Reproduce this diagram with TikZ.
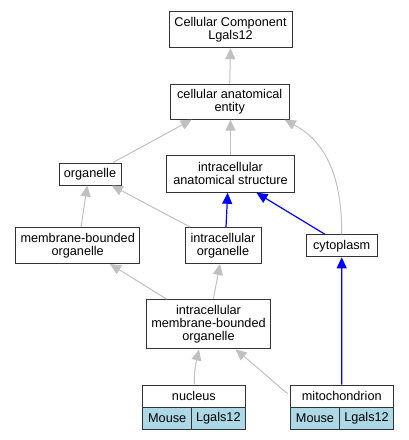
\documentclass[tikz,border=0pt]{standalone}
\usepackage{fontspec}
\setmainfont{Liberation Sans}
\usetikzlibrary{arrows.meta}
\definecolor{edgegray}{HTML}{C0C0C0}
\definecolor{cellblue}{HTML}{ADD8E6}
\tikzset{
  gobox/.style={rectangle, draw=black!80, line width=1pt, fill=white, inner sep=0pt, align=center, font=\fontsize{12.7}{13.3}\selectfont},
  cellbox/.style={gobox, fill=cellblue, minimum height=21.7},
  isa/.style={draw=edgegray, line width=1pt, -{Triangle[length=11pt, width=10pt]}},
  partof/.style={draw=blue, line width=1.2pt, -{Triangle[length=11pt, width=10pt]}}
}
\begin{document}
\begin{tikzpicture}[x=1pt, y=-1pt]
    \useasboundingbox (0, 0) rectangle (409, 440);

    \node[gobox, minimum width=123, minimum height=36] (CC) at (230.5, 29.7) {Cellular Component\\Lgals12};
    \node[gobox, minimum width=119, minimum height=35] (entity) at (229.7, 101.7) {cellular anatomical\\entity};
    \node[gobox, minimum width=62, minimum height=22] (organelle) at (90, 174) {organelle};
    \node[gobox, minimum width=128, minimum height=37] (IAS) at (230.5, 173.8) {intracellular\\anatomical structure};
    \node[gobox, minimum width=124, minimum height=36] (MBO) at (77.7, 245.5) {membrane-bounded\\organelle};
    \node[gobox, minimum width=76, minimum height=36] (IO) at (223, 245.5) {intracellular\\organelle};
    \node[gobox, minimum width=70.7, minimum height=22] (cyto) at (341.7, 245.8) {cytoplasm};
    \node[gobox, minimum width=123.7, minimum height=49.3] (IMBO) at (208.5, 324.3) {intracellular\\membrane-bounded\\organelle};

    % genes annotated below each term
    \node[gobox, minimum width=102.3, minimum height=22.3] (nucleus) at (193.85, 396.2) {nucleus};
    \node[cellbox, minimum width=49] (nucleus_sp) at (167.2, 418.2) {Mouse};
    \node[cellbox, minimum width=53.3] (nucleus_gene) at (218.35, 418.2) {Lgals12};
    \node[gobox, minimum width=103, minimum height=22.3] (mito) at (341.8, 396.2) {mitochondrion};
    \node[cellbox, minimum width=49.4] (mito_sp) at (315, 418.2) {Mouse};
    \node[cellbox, minimum width=53.6] (mito_gene) at (366.5, 418.2) {Lgals12};

    \draw[isa] (entity.north) -- (CC.south);
    \draw[isa] ([xshift=23]organelle.north) -- ([xshift=-38]entity.south);
    \draw[isa] (IAS.north) -- (entity.south -| IAS.north);
    \draw[isa] (cyto.north) .. controls (342, 170) and (322, 140) .. ([xshift=-5]entity.south east);
    \draw[isa] ([xshift=3.3]MBO.north) -- ([xshift=-2.7]organelle.south);
    \draw[isa] ([xshift=-33]IO.north) -- ([xshift=21.7]organelle.south);
    \draw[partof] ([xshift=3]IO.north) -- ([xshift=-2.8]IAS.south);
    \draw[partof] ([xshift=-16.7]cyto.north) -- ([xshift=26]IAS.south);
    \draw[isa] ([xshift=-41.8]IMBO.north) -- ([xshift=32.3]MBO.south);
    \draw[isa] ([xshift=4.8]IMBO.north) -- ([xshift=-3]IO.south);
    \draw[isa] ([xshift=0.5]nucleus.north) .. controls (194, 372) and (196, 362) .. ([xshift=-9.5]IMBO.south);
    \draw[isa] ([xshift=-2, yshift=-9]mito.north west) .. controls (280, 388) and (270, 378) .. ([xshift=27]IMBO.south);
    \draw[partof] (mito.north) -- (cyto.south);

  \end{tikzpicture}
\end{document}
